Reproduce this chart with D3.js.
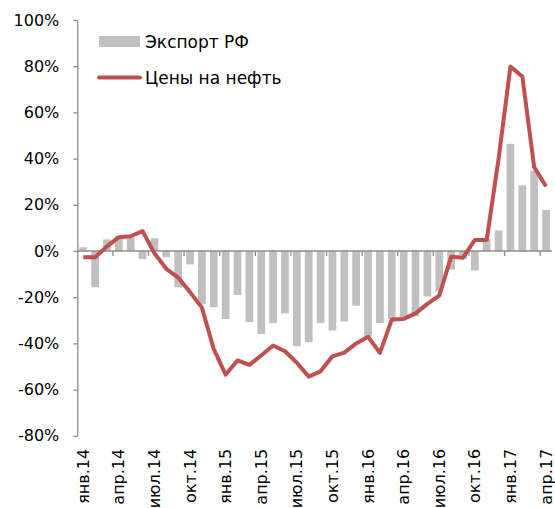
<!DOCTYPE html>
<html>
<head>
<meta charset="utf-8">
<script src="https://cdn.jsdelivr.net/npm/d3@7"></script>
<style>
  html, body { margin: 0; padding: 0; background: #fff; }
  svg { display: block; }
  text { font-family: "DejaVu Sans", sans-serif; fill: #000; }
</style>
</head>
<body>
<svg id="chart" width="555" height="508"></svg>
<script>
const months = [
  "янв.14","фев.14","мар.14","апр.14","май.14","июн.14","июл.14","авг.14","сен.14","окт.14","ноя.14","дек.14",
  "янв.15","фев.15","мар.15","апр.15","май.15","июн.15","июл.15","авг.15","сен.15","окт.15","ноя.15","дек.15",
  "янв.16","фев.16","мар.16","апр.16","май.16","июн.16","июл.16","авг.16","сен.16","окт.16","ноя.16","дек.16",
  "янв.17","фев.17","мар.17","апр.17"
];
const exportRF = [
  1.6, -15.7, 5.0, 6.5, 6.0, -3.5, 5.5, -2.7, -15.7, -5.8, -22.9, -24.3,
  -29.4, -19.0, -30.8, -35.9, -31.2, -27.0, -41.2, -39.5, -31.2, -34.4, -30.5, -23.7,
  -37.0, -31.2, -29.4, -28.8, -28.2, -19.7, -17.4, -8.1, -3.4, -8.4, 5.3, 8.9,
  46.4, 28.4, 34.8, 17.8
];
const oilPrice = [
  -2.7, -2.7, 2.0, 6.0, 6.4, 8.6, -1.0, -7.7, -11.5, -17.8, -24.5, -42.5,
  -53.5, -47.4, -49.3, -45.2, -40.9, -43.4, -48.4, -54.4, -52.1, -45.6, -44.0, -40.0,
  -37.1, -44.1, -29.7, -29.4, -27.0, -22.9, -19.3, -2.5, -2.9, 4.8, 4.8, 40.0,
  79.9, 75.5, 36.3, 27.9
];
const yTicks = [100, 80, 60, 40, 20, 0, -20, -40, -60, -80];
const yTickLabels = ["100%", "80%", "60%", "40%", "20%", "0%", "-20%", "-40%", "-60%", "-80%"];
const seriesNames = ["Экспорт РФ", "Цены на нефть"];

const svg = d3.select("#chart");
const mLeft = 77.3, mRight = 552, mTop = 20, mBottom = 435.8;
const axisColor = "#8c8c8c";

const x = d3.scaleBand().domain(months).range([mLeft, mRight]).paddingInner(0.35).paddingOuter(0.175);
const xOuter = d3.scaleBand().domain(months).range([mLeft, mRight]).padding(0);
const y = d3.scaleLinear().domain([-80, 100]).range([mBottom, mTop]);

// bars
svg.append("g").selectAll("rect").data(months).join("rect")
  .attr("x", d => x(d))
  .attr("width", x.bandwidth())
  .attr("y", (d, i) => y(Math.max(0, exportRF[i])))
  .attr("height", (d, i) => Math.abs(y(exportRF[i]) - y(0)))
  .attr("fill", "#c0c0c0");

// y axis
const yAxis = d3.axisLeft(y).tickValues(yTicks)
  .tickFormat((d, i) => yTickLabels[i]).tickSize(4).tickPadding(14).tickSizeOuter(0);
const gy = svg.append("g").attr("transform", `translate(${mLeft},0)`).call(yAxis);
gy.select(".domain").attr("stroke", axisColor).attr("stroke-width", 1.3);
gy.selectAll(".tick line").attr("stroke", axisColor).attr("stroke-width", 1.3);
gy.selectAll(".tick text").attr("font-size", 16).attr("font-family", "DejaVu Sans").attr("fill", "#000");

// x axis line at 0
const boundaryIdx = d3.range(3, months.length, 3);
svg.append("line").attr("x1", mLeft).attr("x2", mRight).attr("y1", y(0)).attr("y2", y(0))
  .attr("stroke", axisColor).attr("stroke-width", 1.3);
svg.append("g").selectAll("line").data(boundaryIdx).join("line")
  .attr("x1", i => xOuter(months[i])).attr("x2", i => xOuter(months[i]))
  .attr("y1", y(0)).attr("y2", y(0) + 5)
  .attr("stroke", axisColor).attr("stroke-width", 1.3);

// x labels (every 3rd)
const labelIdx = d3.range(0, months.length, 3);
svg.append("g").selectAll("text").data(labelIdx).join("text")
  .attr("transform", i => `translate(${xOuter(months[i]) + xOuter.bandwidth() / 2},${mBottom + 13}) rotate(-90)`)
  .attr("text-anchor", "end")
  .attr("dy", "0.35em")
  .attr("font-size", 16)
  .text(i => months[i]);

// line
const line = d3.line()
  .x((d, i) => xOuter(months[i]) + xOuter.bandwidth() / 2)
  .y(d => y(d));
svg.append("path").datum(oilPrice)
  .attr("d", line)
  .attr("fill", "none")
  .attr("stroke", "#c0504d")
  .attr("stroke-width", 4)
  .attr("stroke-linejoin", "round");

// legend
const lg = svg.append("g");
lg.append("rect").attr("x", 99).attr("y", 36).attr("width", 41).attr("height", 11).attr("fill", "#c0c0c0");
lg.append("text").attr("x", 145).attr("y", 47.5).attr("font-size", 17).text(seriesNames[0]);
lg.append("line").attr("x1", 99).attr("x2", 140).attr("y1", 77.5).attr("y2", 77.5)
  .attr("stroke", "#c0504d").attr("stroke-width", 4).attr("stroke-linecap", "round");
lg.append("text").attr("x", 145).attr("y", 83.5).attr("font-size", 17).text(seriesNames[1]);
</script>
</body>
</html>
